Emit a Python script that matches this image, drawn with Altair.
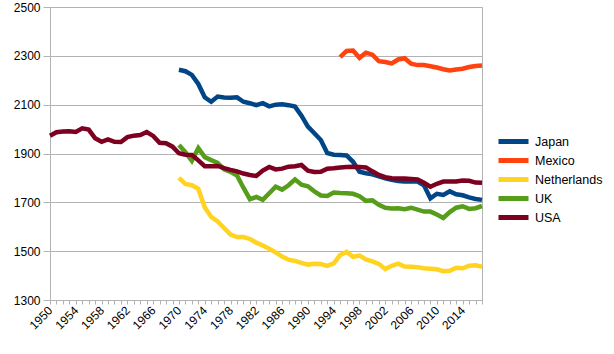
import altair as alt
import pandas as pd

years_all = list(range(1950, 2018))

usa_years = list(range(1950, 2018))
usa = [1973, 1987, 1990, 1991, 1988, 2003, 1998, 1962, 1948, 1958,
       1948, 1947, 1967, 1973, 1976, 1988, 1972, 1944, 1942, 1928,
       1901, 1895, 1894, 1872, 1848, 1848, 1849, 1840, 1833, 1827,
       1818, 1812, 1808, 1830, 1845, 1835, 1838, 1846, 1848, 1853,
       1830, 1824, 1825, 1838, 1840, 1843, 1845, 1846, 1845, 1843,
       1827, 1812, 1803, 1799, 1798, 1798, 1796, 1794, 1780, 1764,
       1776, 1785, 1785, 1785, 1789, 1788, 1781, 1780]

japan_years = list(range(1970, 2018))
japan = [2243, 2237, 2222, 2185, 2130, 2112, 2133, 2129, 2128, 2130,
         2112, 2106, 2098, 2106, 2093, 2100, 2102, 2098, 2092, 2055,
         2010, 1983, 1955, 1902, 1895, 1894, 1892, 1866, 1825, 1819,
         1815, 1806, 1798, 1792, 1787, 1785, 1785, 1785, 1770, 1716,
         1735, 1730, 1745, 1733, 1729, 1720, 1714, 1710]

mexico_years = list(range(1995, 2018))
mexico = [2295, 2320, 2322, 2292, 2313, 2305, 2278, 2275, 2269, 2285,
          2290, 2268, 2262, 2262, 2257, 2252, 2245, 2240, 2244, 2247,
          2254, 2258, 2260]

netherlands_years = list(range(1970, 2018))
netherlands = [1800, 1775, 1770, 1755, 1680, 1640, 1622, 1595, 1568, 1558,
               1558, 1550, 1535, 1523, 1510, 1495, 1478, 1465, 1460, 1452,
               1445, 1448, 1447, 1440, 1450, 1484, 1497, 1477, 1482, 1466,
               1458, 1448, 1427, 1440, 1449, 1437, 1436, 1434, 1430, 1428,
               1426, 1418, 1420, 1432, 1430, 1440, 1442, 1436]

uk_years = list(range(1970, 2018))
uk = [1935, 1905, 1870, 1922, 1885, 1873, 1862, 1835, 1825, 1810,
      1760, 1713, 1722, 1710, 1737, 1764, 1752, 1770, 1794, 1772,
      1766, 1745, 1728, 1726, 1740, 1738, 1737, 1735, 1725, 1706,
      1708, 1690, 1678, 1675, 1676, 1672, 1678, 1670, 1662, 1662,
      1650, 1636, 1660, 1678, 1684, 1673, 1676, 1685]

countries = ["Japan", "Mexico", "Netherlands", "UK", "USA"]
colors = ["#004586", "#ff420e", "#ffd320", "#579d1c", "#7e0021"]

rows = []
for name, ys, vs in [("Japan", japan_years, japan), ("Mexico", mexico_years, mexico),
                     ("Netherlands", netherlands_years, netherlands),
                     ("UK", uk_years, uk), ("USA", usa_years, usa)]:
    for y, v in zip(ys, vs):
        rows.append({"year": y, "hours": v, "country": name})
df = pd.DataFrame(rows)

y_ticks = [1300, 1500, 1700, 1900, 2100, 2300, 2500]

chart = alt.Chart(df).mark_line(strokeWidth=4.5).encode(
    x=alt.X("year:Q",
            scale=alt.Scale(domain=[1950, 2017], nice=False, zero=False),
            axis=alt.Axis(title=None, values=years_all, format="d",
                          labelExpr="datum.value % 4 == 2 ? datum.label : ''",
                          labelOverlap=False, labelFlush=False,
                          labelAngle=-45, labelAlign="right", labelBaseline="middle",
                          labelPadding=4, tickSize=4, grid=False,
                          domainColor="#b3b3b3", tickColor="#b3b3b3")),
    y=alt.Y("hours:Q",
            scale=alt.Scale(domain=[1300, 2500], nice=False, zero=False),
            axis=alt.Axis(title=None, values=y_ticks, format="d", tickSize=7,
                          labelPadding=3, labelFlush=False,
                          grid=True, gridColor="#b3b3b3", domainColor="#b3b3b3",
                          tickColor="#b3b3b3")),
    color=alt.Color("country:N",
                    scale=alt.Scale(domain=countries, range=colors),
                    legend=alt.Legend(title=None, orient="none", legendX=446, legendY=125,
                                      symbolType="M-1,0L4,0", symbolSize=144,
                                      symbolStrokeWidth=5, labelFontSize=12.5,
                                      labelOffset=22, rowPadding=0, clipHeight=19)),
).properties(
    width=432, height=293,
    autosize=alt.AutoSizeParams(type="none"),
    padding={"left": 50, "top": 7, "right": 132, "bottom": 54},
).configure_axis(
    labelFont="Liberation Sans", labelFontSize=12, labelColor="#000000",
).configure_legend(
    labelFont="Liberation Sans", labelColor="#000000",
).configure_view(
    stroke="#b3b3b3",
)

chart.save("out.html", embed_options={"renderer": "svg", "actions": False})
